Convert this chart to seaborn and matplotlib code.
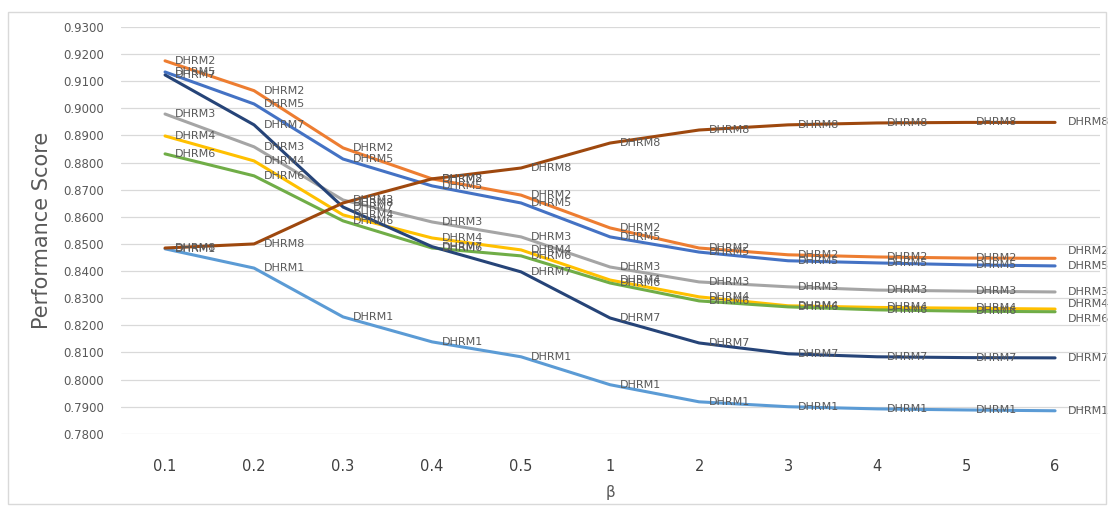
import pandas as pd
import numpy as np
import matplotlib.pyplot as plt
import seaborn as sns
from matplotlib.patches import Rectangle

# beta values (categorical axis)
beta = ['0.1', '0.2', '0.3', '0.4', '0.5', '1', '2', '3', '4', '5', '6']

dhrm1 = [0.8482, 0.8411, 0.8231, 0.8139, 0.8084, 0.7981, 0.7918, 0.7900, 0.7892, 0.7888, 0.7885]
dhrm2 = [0.9175, 0.9065, 0.8854, 0.8740, 0.8680, 0.8559, 0.8485, 0.8460, 0.8452, 0.8448, 0.8447]
dhrm3 = [0.8979, 0.8858, 0.8662, 0.8581, 0.8526, 0.8415, 0.8360, 0.8342, 0.8330, 0.8326, 0.8323]
dhrm4 = [0.8898, 0.8806, 0.8607, 0.8522, 0.8478, 0.8367, 0.8305, 0.8272, 0.8266, 0.8263, 0.8260]
dhrm5 = [0.9134, 0.9016, 0.8813, 0.8714, 0.8651, 0.8526, 0.8470, 0.8438, 0.8430, 0.8423, 0.8419]
dhrm6 = [0.8832, 0.8751, 0.8585, 0.8485, 0.8456, 0.8356, 0.8290, 0.8268, 0.8257, 0.8252, 0.8250]
dhrm7 = [0.9123, 0.8939, 0.8636, 0.8490, 0.8397, 0.8227, 0.8135, 0.8095, 0.8084, 0.8081, 0.8080]
dhrm8 = [0.8485, 0.8500, 0.8651, 0.8740, 0.8780, 0.8872, 0.8920, 0.8939, 0.8946, 0.8948, 0.8948]

series = {'DHRM1': dhrm1, 'DHRM2': dhrm2, 'DHRM3': dhrm3, 'DHRM4': dhrm4,
          'DHRM5': dhrm5, 'DHRM6': dhrm6, 'DHRM7': dhrm7, 'DHRM8': dhrm8}
colors = {'DHRM1': '#5B9BD5', 'DHRM2': '#ED7D31', 'DHRM3': '#A5A5A5', 'DHRM4': '#FFC000',
          'DHRM5': '#4472C4', 'DHRM6': '#70AD47', 'DHRM7': '#264478', 'DHRM8': '#9E480E'}

df = pd.concat([pd.DataFrame({'beta': beta, 'score': v, 'model': k}) for k, v in series.items()],
               ignore_index=True)

sns.set_style('white')
plt.rcParams['font.family'] = ['DejaVu Sans']

fig = plt.figure(figsize=(11.09, 5.08), dpi=100)
ax = fig.add_axes([0.1087, 0.146, 0.8828, 0.801])

sns.lineplot(data=df, x='beta', y='score', hue='model', palette=colors,
             sort=False, linewidth=2.2, legend=False, ax=ax)

label_color = '#595959'
# end label nudges (points) like Excel's data label leader lines
end_nudge = {'DHRM2': 5, 'DHRM4': 3.5, 'DHRM6': -5}

for name, vals in series.items():
    for i, v in enumerate(vals):
        if i < len(vals) - 1:
            ax.annotate(name, (i, v), xytext=(7, 0), textcoords='offset points',
                        ha='left', va='center', fontsize=8, color=label_color)
        else:
            dy = end_nudge.get(name, 0)
            ax.annotate(name, (i, v), xytext=(9.5, dy), textcoords='offset points',
                        ha='left', va='center', fontsize=8, color=label_color,
                        annotation_clip=False)

ax.set_xlim(-0.5, len(beta) - 0.5)
ax.set_ylim(0.78, 0.93)
ax.set_yticks(np.arange(0.78, 0.9301, 0.01))
ax.yaxis.set_major_formatter(plt.FuncFormatter(lambda y, _: f'{y:.4f}'))
ax.grid(axis='y', color='#D9D9D9', linewidth=0.9)
ax.grid(axis='x', visible=False)
for s in ax.spines.values():
    s.set_visible(False)

ax.tick_params(axis='y', length=0, pad=12, labelsize=8.5, labelcolor=label_color)
ax.tick_params(axis='x', length=0, pad=18, labelsize=10.5, labelcolor='#404040')
ax.set_ylabel('Performance Score', fontsize=15, color=label_color, labelpad=8)
ax.set_xlabel('β', fontsize=11, color=label_color, labelpad=8)

fig.patches.append(Rectangle((0.007, 0.008), 0.99, 0.968, transform=fig.transFigure,
                             fill=False, edgecolor='#D9D9D9', linewidth=1))

fig.savefig('out.png', dpi=100)
